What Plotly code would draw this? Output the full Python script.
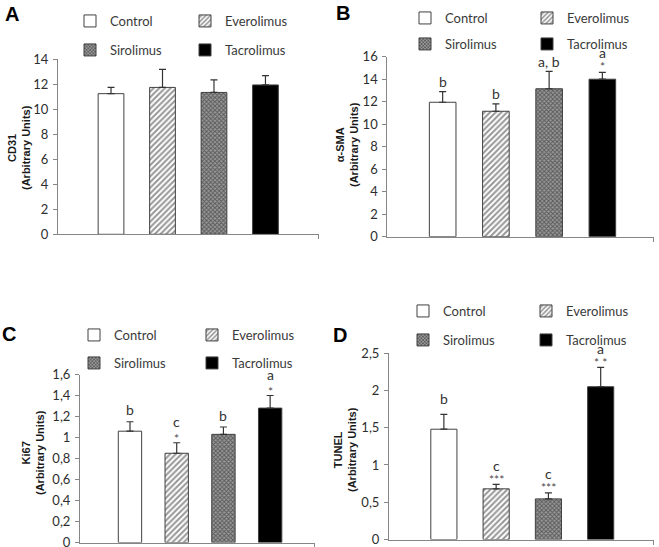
import plotly.graph_objects as go

W, H = 659, 547

groups = ["Control", "Everolimus", "Sirolimus", "Tacrolimus"]
positions = [1, 2, 3, 4]

cd31_mean = [11.25, 11.75, 11.35, 11.95]
cd31_err = [0.50, 1.45, 1.00, 0.75]
sma_mean = [11.95, 11.15, 13.15, 14.00]
sma_err = [0.95, 0.65, 1.55, 0.60]
ki67_mean = [1.06, 0.85, 1.03, 1.28]
ki67_err = [0.09, 0.10, 0.07, 0.12]
tunel_mean = [1.48, 0.68, 0.545, 2.05]
tunel_err = [0.20, 0.06, 0.08, 0.26]

sma_letters = ["b", "b", "a, b", "a"]
sma_stars = ["", "", "", "*"]
ki67_letters = ["b", "c", "b", "a"]
ki67_stars = ["", "*", "", "*"]
tunel_letters = ["b", "c", "c", "a"]
tunel_stars = ["", "***", "***", "* *"]

cd31_ticks = [0, 2, 4, 6, 8, 10, 12, 14]
cd31_ticklabels = ["0", "2", "4", "6", "8", "10", "12", "14"]
sma_ticks = [0, 2, 4, 6, 8, 10, 12, 14, 16]
sma_ticklabels = ["0", "2", "4", "6", "8", "10", "12", "14", "16"]
ki67_ticks = [0, 0.2, 0.4, 0.6, 0.8, 1.0, 1.2, 1.4, 1.6]
ki67_ticklabels = ["0", "0,2", "0,4", "0,6", "0,8", "1", "1,2", "1,4", "1,6"]
tunel_ticks = [0, 0.5, 1.0, 1.5, 2.0, 2.5]
tunel_ticklabels = ["0", "0,5", "1", "1,5", "2", "2,5"]


def px(x):
    return x / W


def py(y):
    return 1 - y / H


FONT = "Lato"
AXIS_GREY = "#868686"
TEXT_GREY = "#2e2e2e"

styles = {
    "Control": dict(color="white", pattern=dict(shape="")),
    "Everolimus": dict(color="white", pattern=dict(shape="/", fgcolor="#2e2e2e", bgcolor="white",
                                                  size=4, solidity=0.5)),
    "Sirolimus": dict(color="#555555", pattern=dict(shape="x", fgcolor="#1a1a1a", bgcolor="#9a9a9a",
                                                    size=3, solidity=0.55)),
    "Tacrolimus": dict(color="black", pattern=dict(shape="")),
}

panels = [
    dict(letter="A", title="CD31", mean=cd31_mean, err=cd31_err, ticks=cd31_ticks,
         ticklabels=cd31_ticklabels, letters=None, stars=None, yrange=[0, 14],
         xdom=[58, 319], ydom=[234.3, 59.3], xrange=[-0.03, 5.04],
         leg_x=70, leg_y=[21, 50], spacing=115, title_xy=(19, 148), letter_xy=(12, 14),
         shifts=(10, 6, 20)),
    dict(letter="B", title="α-SMA", mean=sma_mean, err=sma_err, ticks=sma_ticks,
         ticklabels=sma_ticklabels, letters=sma_letters, stars=sma_stars, yrange=[0, 16],
         xdom=[387.3, 654], ydom=[236.7, 56.7], xrange=[-0.04, 4.97],
         leg_x=405, leg_y=[18, 44], spacing=122, title_xy=(347, 145), letter_xy=(343, 13),
         shifts=(10, 6, 20)),
    dict(letter="C", title="Ki67", mean=ki67_mean, err=ki67_err, ticks=ki67_ticks,
         ticklabels=ki67_ticklabels, letters=ki67_letters, stars=ki67_stars, yrange=[0, 1.6],
         xdom=[80, 315], ydom=[542.5, 374.5], xrange=[-0.07, 4.96],
         leg_x=74, leg_y=[335, 363], spacing=118, title_xy=(33, 453), letter_xy=(9, 334),
         shifts=(12, 4, 21)),
    dict(letter="D", title="TUNEL", mean=tunel_mean, err=tunel_err, ticks=tunel_ticks,
         ticklabels=tunel_ticklabels, letters=tunel_letters, stars=tunel_stars, yrange=[0, 2.5],
         xdom=[389, 654], ydom=[539.5, 353.2], xrange=[-0.05, 5.02],
         leg_x=403, leg_y=[311, 340], spacing=123, title_xy=(345, 450), letter_xy=(340, 335),
         shifts=(16, 5, 19)),
]

fig = go.Figure()
annotations = []
layout_extra = {}
legend_counter = 0


def legend_key(n):
    return "legend" if n == 1 else f"legend{n}"


for pi, p in enumerate(panels):
    k = pi + 1
    xa = "x" if k == 1 else f"x{k}"
    ya = "y" if k == 1 else f"y{k}"
    xkey = "xaxis" if k == 1 else f"xaxis{k}"
    ykey = "yaxis" if k == 1 else f"yaxis{k}"

    row_legends = []
    for r in range(2):
        legend_counter += 1
        row_legends.append(legend_key(legend_counter))
        layout_extra[legend_key(legend_counter)] = dict(
            orientation="h", x=px(p["leg_x"]), y=py(p["leg_y"][r]),
            xanchor="left", yanchor="middle", entrywidthmode="pixels",
            bgcolor="rgba(0,0,0,0)", borderwidth=0, itemwidth=30,
            font=dict(family=FONT, size=13, color="#3a3a3a"),
            traceorder="normal",
        )

    for i, g in enumerate(groups):
        st = styles[g]
        # first entry of a legend row sets the spacing to the second entry
        lw = p["spacing"] - 45 if i % 2 == 0 else 85
        fig.add_trace(go.Bar(
            x=[positions[i]], y=[p["mean"][i]], name=g, width=0.5,
            xaxis=xa, yaxis=ya, legend=row_legends[i // 2], legendwidth=lw,
            marker=dict(color=st["color"], line=dict(color="#404040", width=1),
                        pattern=st["pattern"]),
            error_y=dict(type="data", symmetric=False, array=[p["err"][i]], arrayminus=[0],
                         color="#333333", thickness=1.2, width=3.5),
            showlegend=True,
        ))

    layout_extra[xkey] = dict(
        domain=[px(p["xdom"][0]), px(p["xdom"][1])], range=p["xrange"], anchor=ya,
        showline=True, linecolor=AXIS_GREY, linewidth=1, showgrid=False, zeroline=False,
        showticklabels=False, ticks="outside", ticklen=4, tickcolor=AXIS_GREY,
        tickvals=[p["xrange"][1] - 0.005], fixedrange=True,
    )
    layout_extra[ykey] = dict(
        domain=[py(p["ydom"][0]), py(p["ydom"][1])], range=p["yrange"], anchor=xa,
        showline=True, linecolor=AXIS_GREY, linewidth=1, showgrid=False, zeroline=False,
        ticks="outside", ticklen=4, tickcolor=AXIS_GREY, tickvals=p["ticks"],
        ticktext=p["ticklabels"], tickfont=dict(family=FONT, size=13, color=TEXT_GREY),
        ticklabelstandoff=2, ticklabeloverflow="allow", fixedrange=True,
    )

    # y-axis title
    annotations.append(dict(
        text=f"<b>{p['title']}</b><br><b>(Arbitrary Units)</b>", textangle=-90,
        x=px(p["title_xy"][0]), y=py(p["title_xy"][1]), xref="paper", yref="paper",
        xanchor="center", yanchor="middle", showarrow=False,
        font=dict(family="Liberation Sans", size=11, color="#1a1a1a"),
    ))
    # panel letter
    annotations.append(dict(
        text=f"<b>{p['letter']}</b>", x=px(p["letter_xy"][0]), y=py(p["letter_xy"][1]),
        xref="paper", yref="paper", xanchor="center", yanchor="middle", showarrow=False,
        font=dict(family="Liberation Sans", size=20, color="black"),
    ))
    # significance labels
    if p["letters"]:
        s_letter, s_star, s_letter_star = p["shifts"]
        for i in range(len(groups)):
            top = p["mean"][i] + p["err"][i]
            star = p["stars"][i]
            if star:
                annotations.append(dict(
                    text=star, x=positions[i], y=top, xref=xa, yref=ya, showarrow=False,
                    yanchor="middle", yshift=s_star,
                    font=dict(family=FONT, size=12, color="#4a4a4a"),
                ))
                shift = s_letter_star
            else:
                shift = s_letter
            annotations.append(dict(
                text=p["letters"][i], x=positions[i], y=top, xref=xa, yref=ya, showarrow=False,
                yanchor="middle", yshift=shift,
                font=dict(family=FONT, size=14, color="#333333"),
            ))

fig.update_layout(
    width=W, height=H, margin=dict(l=0, r=0, t=0, b=0, autoexpand=False),
    paper_bgcolor="white", plot_bgcolor="white", barmode="overlay",
    showlegend=True, annotations=annotations, **layout_extra,
)

fig.write_html("out.html", config={"displayModeBar": False},
               post_script="document.body.style.margin='0px';")
